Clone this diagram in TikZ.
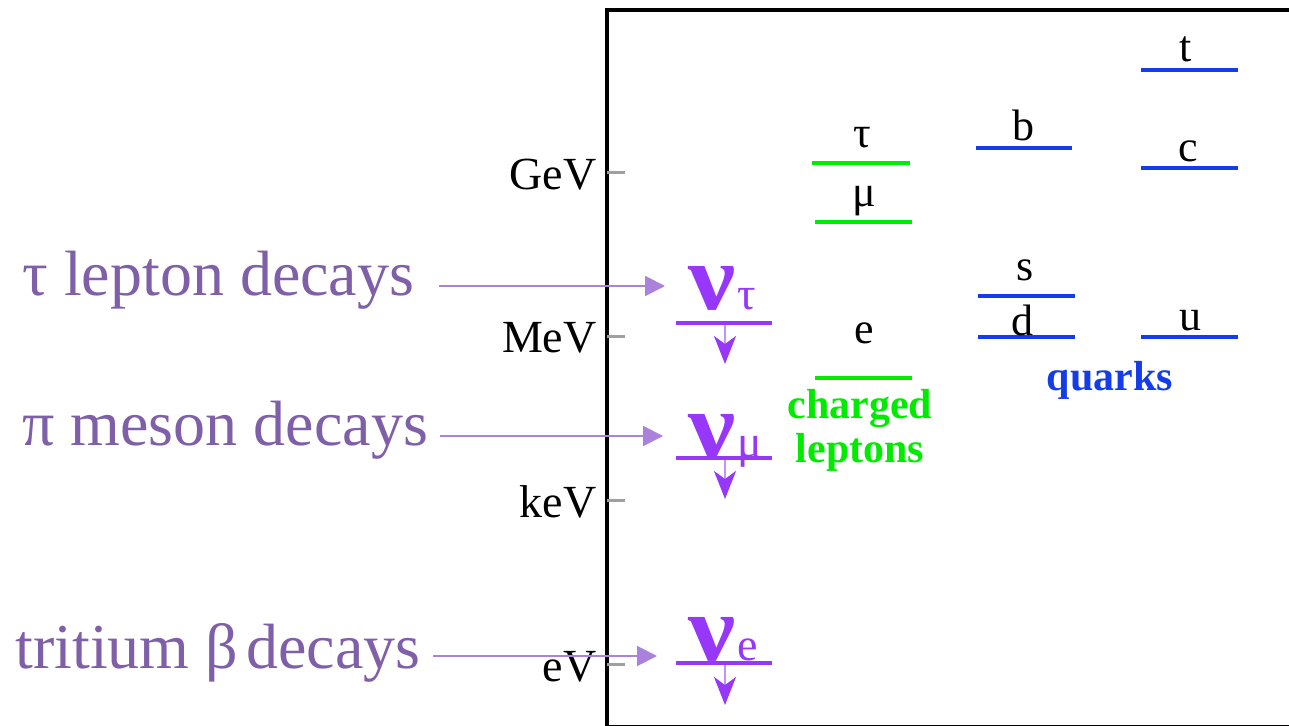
\documentclass[tikz,border=0pt]{standalone}
\usepackage{fontspec}
\setmainfont{Liberation Serif}
\usepackage{tikz}
\usetikzlibrary{arrows.meta}
\usepackage{xcolor}
\definecolor{decaytext}{RGB}{127,96,168}
\definecolor{decayline}{RGB}{170,130,220}
\definecolor{nucol}{RGB}{150,55,250}
\definecolor{lepcol}{RGB}{0,235,0}
\definecolor{quarkcol}{RGB}{20,60,235}
\newcommand{\bignu}{\scalebox{1.15}[1.02]{\fontsize{46}{50}\selectfont\bfseries ν}}

\begin{document}
\begin{tikzpicture}[x=0.5pt,y=-0.5pt,line cap=butt,
  decaylabel/.style={anchor=base west,inner sep=0pt,text=decaytext,font=\fontsize{32}{38}\selectfont},
  decay/.style={decayline,line width=1pt,-{Triangle[length=10pt,width=10pt]}},
  axislabel/.style={anchor=east,inner sep=0pt,font=\fontsize{23}{27}\selectfont},
  levlabel/.style={inner sep=0pt,font=\fontsize{22}{26}\selectfont},
  lepline/.style={lepcol,line width=2pt},
  quarkline/.style={quarkcol,line width=2pt},
  nulabel/.style={anchor=base west,inner sep=0pt,text=nucol,font=\fontsize{23}{26}\selectfont},
  nuline/.style={nucol,line width=2pt},
  nudown/.style={nucol!55,line width=1pt,-{Stealth[length=14pt,width=11pt,inset=4pt,color=nucol]}}]
\useasboundingbox (0,0) rectangle (1289,726);
\draw[line width=2pt] (1300,10) -- (607,10) -- (607,727) -- (1300,727);
\foreach \y in {173,337,500,664}
  \draw[gray!75,line width=1.5pt] (607,\y) -- (625,\y);
\node[axislabel] (gev) at (597,175) {GeV};
\node[axislabel] (mev) at (597,338) {MeV};
\node[axislabel] (kev) at (597,502) {keV};
\node[axislabel] (ev) at (597,667) {eV};
% charged leptons
\draw[lepline] (812,163) -- (910,163);
\node[levlabel] (tau) at (862,138) {τ};
\draw[lepline] (815,222) -- (912,222);
\node[levlabel] (mu) at (864,201) {μ};
\draw[lepline] (815,378) -- (912,378);
\node[levlabel] (e) at (864,333) {e};
\node[levlabel,text=lepcol,align=center,font=\fontsize{21}{22}\selectfont\bfseries] (leptons) at (860,430) {charged\\leptons};
% quarks
\draw[quarkline] (1141,70) -- (1238,70);
\node[levlabel] (t) at (1186,49) {t};
\draw[quarkline] (976,148) -- (1072,148);
\node[levlabel] (b) at (1023,125) {b};
\draw[quarkline] (1141,168) -- (1238,168);
\node[levlabel] (c) at (1188,151) {c};
\draw[quarkline] (978,296) -- (1075,296);
\node[levlabel] (s) at (1025,270) {s};
\draw[quarkline] (978,337) -- (1075,337);
\node[levlabel] (d) at (1022,320) {d};
\draw[quarkline] (1141,337) -- (1238,337);
\node[levlabel] (u) at (1190,321) {u};
\node[levlabel,text=quarkcol,font=\fontsize{21}{22}\selectfont\bfseries] (quarks) at (1110,380) {quarks};
% neutrinos
\node[nulabel] (nutau) at (688,310) {\bignu\kern1pt τ};
\draw[nuline] (676,323) -- (772,323);
\draw[nudown] (725,325) -- (725,364);
\node[nulabel] (numu) at (688,458) {\bignu\kern1pt μ};
\draw[nuline] (676,458) -- (772,458);
\draw[nudown] (725,460) -- (725,499);
\node[nulabel] (nue) at (688,660) {\bignu\kern1pt e};
\draw[nuline] (676,663) -- (772,663);
\draw[nudown] (725,665) -- (725,705);
% decays
\node[decaylabel] (taudec) at (22,296) {τ lepton decays};
\node[decaylabel] (pidec) at (22,446) {π meson decays};
\node[decaylabel] (tritdec) at (15,668) {tritium β\hspace{-0.12em} decays};
\draw[decay,shorten <=12pt,shorten >=11.5pt] ([yshift=5pt]taudec.base east) -- ([yshift=5pt]taudec.base east -| nutau.west);
\draw[decay,shorten <=6pt,shorten >=12.5pt] ([yshift=5pt]pidec.base east) -- ([yshift=5pt]pidec.base east -| numu.west);
\draw[decay,shorten <=6pt,shorten >=15.5pt] ([yshift=6pt]tritdec.base east) -- ([yshift=6pt]tritdec.base east -| nue.west);
\end{tikzpicture}
\end{document}
